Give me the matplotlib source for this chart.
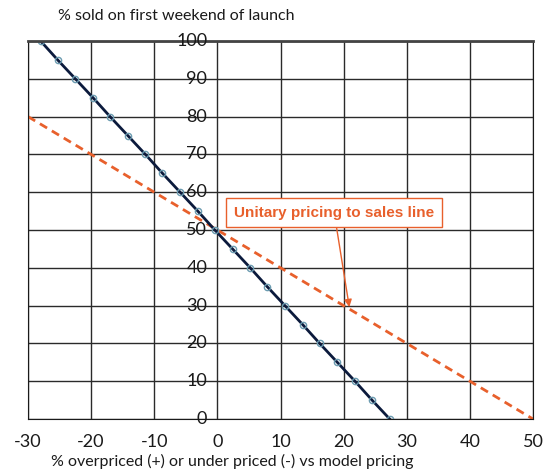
import matplotlib
matplotlib.use('Agg')
import matplotlib.pyplot as plt

# black pricing line at each 5% step of y
price_x = [-28.0, -25.3, -22.5, -19.7, -17.0, -14.2, -11.4, -8.7, -5.9, -3.1, -0.4,
           2.4, 5.2, 7.9, 10.7, 13.5, 16.2, 19.0, 21.8, 24.5, 27.3]
sold_y = [100, 95, 90, 85, 80, 75, 70, 65, 60, 55, 50,
          45, 40, 35, 30, 25, 20, 15, 10, 5, 0]

# unitary line end points
unit_x = [-30, 50]
unit_y = [80, 0]

x_ticks = [-30, -20, -10, 0, 10, 20, 30, 40, 50]
y_ticks = [0, 10, 20, 30, 40, 50, 60, 70, 80, 90, 100]

orange = '#e8602c'
navy = '#0b1a3c'

plt.rcParams['font.family'] = ['Lato', 'DejaVu Sans']
plt.rcParams['axes.unicode_minus'] = False

fig = plt.figure(figsize=(5.46, 4.70), dpi=100)
ax = fig.add_axes([28/546, 51/470, 505/546, 378/470])

ax.set_xlim(-30, 50)
ax.set_ylim(0, 100)
ax.set_xticks(x_ticks)
ax.set_yticks(y_ticks)
ax.grid(True, color='#2a2a2a', lw=1)
ax.set_axisbelow(True)
ax.tick_params(axis='y', left=False, labelleft=False)
ax.tick_params(axis='x', bottom=False, labelsize=13, pad=7, colors='#1a1a1a')
for s in ['left', 'right', 'bottom']:
    ax.spines[s].set_color('#1a1a1a')
ax.spines['top'].set_color('#444444')
ax.spines['top'].set_linewidth(2)

# y labels sit just left of the zero line
for v in y_ticks:
    ax.text(-1.6, v, str(v), ha='right', va='center', fontsize=13, color='#1a1a1a')

ax.plot(unit_x, unit_y, ls=(0, (3, 2)), color=orange, lw=2)
ax.plot(price_x, sold_y, color=navy, lw=2, marker='o', ms=4.5,
        mfc='none', mec='#6b9bb0', mew=1)

ax.annotate('Unitary pricing to sales line', xy=(20.9, 29.6), xytext=(18.5, 54.6),
            ha='center', va='center', fontsize=11, fontweight='bold',
            family='Liberation Sans', color=orange,
            bbox=dict(boxstyle='square,pad=0.5', fc='white', ec=orange, lw=1),
            arrowprops=dict(arrowstyle='-|>', color=orange, lw=1, shrinkA=0, shrinkB=0))

fig.text(58/546, 1 - 16/470, '% sold on first weekend of launch', fontsize=11.5,
         va='center', color='#1a1a1a')
fig.text(232/546, 1 - 461/470, '% overpriced (+) or under priced (-) vs model pricing',
         fontsize=11.5, ha='center', va='center', color='#1a1a1a')

fig.savefig('out.png', dpi=100)
